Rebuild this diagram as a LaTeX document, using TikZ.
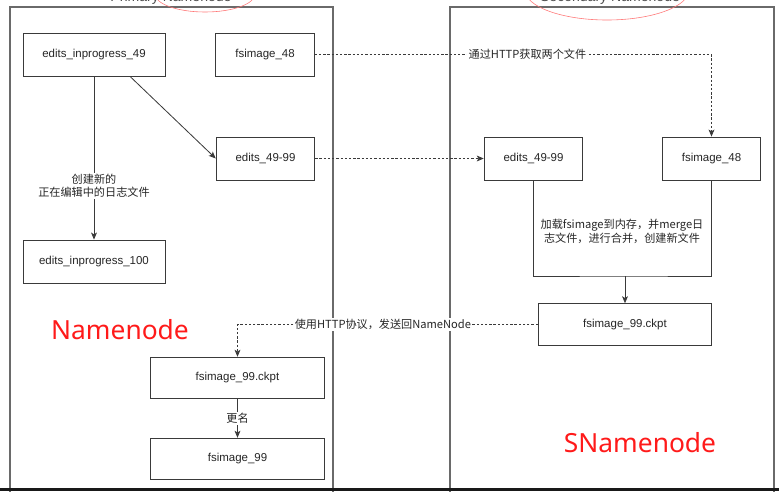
\documentclass[tikz,border=0pt]{standalone}
\usepackage{fontspec}
\setmainfont{Liberation Sans}
\newfontfamily\cjkfont{Noto Sans CJK SC}
\newfontfamily\bigfont{Noto Sans}
\usepackage{xcolor}
\usetikzlibrary{arrows.meta}
\definecolor{boxline}{HTML}{3A3A3A}
\definecolor{hostline}{HTML}{6A6A6A}
\definecolor{markred}{HTML}{FF1A1A}

\begin{document}
\begin{tikzpicture}[x=0.03cm, y=-0.03cm,
    every node/.style={font=\fontsize{9.8}{11}\selectfont, text=black!85},
    file/.style={draw=boxline, line width=0.7pt, fill=white, minimum height=1.29cm, inner sep=2pt},
    narrow/.style={file, minimum width=2.96cm},
    wide/.style={file, minimum width=4.26cm},
    ckpt/.style={file, minimum width=5.2cm, minimum height=1.25cm},
    host/.style={draw=hostline, line width=0.9pt},
    lbl/.style={fill=white, inner sep=1pt, align=center, font=\cjkfont\fontsize{9.5}{11.8}\selectfont},
    big/.style={text=markred, font=\bigfont\fontsize{22.5}{26}\selectfont},
    line/.style={line width=0.7pt, draw=boxline},
    arr/.style={-{Stealth[length=6pt, width=5pt, inset=1.5pt]}, line width=0.7pt, draw=boxline},
    darr/.style={-{Stealth[length=6pt, width=5pt, inset=1.5pt]}, line width=0.7pt, draw=boxline, dash pattern=on 2pt off 1.6pt},
]
\useasboundingbox (0,0) rectangle (779,491);
\clip (0,0) rectangle (779,491);

% Hosts (cut off at top and bottom)
\draw[host] (10,7) rectangle (333,520);
\draw[host] (450,7) rectangle (774,520);
\node[anchor=base, font=\fontsize{12}{14}\selectfont, text=black!70] (ptitle) at (171,1) {Primary Namenode};
\node[anchor=base, font=\fontsize{12}{14}\selectfont, text=black!70] (stitle) at (610,1) {Secondary Namenode};
\draw[markred!60, line width=0.5pt] (205,-6) ellipse [x radius=50, y radius=18];
\draw[markred!60, line width=0.5pt] (607,-10) ellipse [x radius=82, y radius=30];

% Primary Namenode
\node[wide] (ein49) at (94,54.5) {edits\_inprogress\_49};
\node[narrow] (fs48a) at (265,54.5) {fsimage\_48};
\node[narrow] (ed99a) at (265.5,158.5) {edits\_49-99};
\node[wide] (ein100) at (94,261.5) {edits\_inprogress\_100};
\node[ckpt] (ckpta) at (237.5,378) {fsimage\_99.ckpt};
\node[ckpt] (fs99) at (237.5,459) {fsimage\_99};
\node[big] (nn) at (120,330) {Namenode};

% Secondary Namenode
\node[narrow] (ed99b) at (533.5,158.5) {edits\_49-99};
\node[narrow] (fs48b) at (711.5,158.5) {fsimage\_48};
\node[ckpt] (ckptb) at (625,324.5) {fsimage\_99.ckpt};
\coordinate (mrg) at (625,276);
\node[lbl, fill=none] (mrgtext) at (622,231) {加载fsimage到内存，并merge日\\志文件，进行合并，创建新文件};
\node[big] (snn) at (640,443) {SNamenode};

% Local steps
\draw[arr] (ein49) -- node[lbl, pos=0.67] {创建新的\\正在编辑中的日志文件} (ein100);
\draw[arr] ([xshift=1.08cm]ein49.south) -- (ed99a.west);
\draw[line] (ed99b.south) |- (mrg) -| (fs48b.south);
\draw[arr] (mrg) -- (ckptb);
\draw[arr] (ckpta) -- node[lbl] {更名} (fs99);

% HTTP transfers
\draw[darr] (fs48a.east) -| node[lbl, pos=0.268] {通过HTTP获取两个文件} (fs48b.north);
\draw[darr] (ed99a) -- (ed99b);
\draw[darr] (ckptb.west) -| node[lbl, pos=0.258] {使用HTTP协议，发送回NameNode} (ckpta.north);

% screen edge
\fill[black!90] (0,488) rectangle (779,491);
\end{tikzpicture}
\end{document}
